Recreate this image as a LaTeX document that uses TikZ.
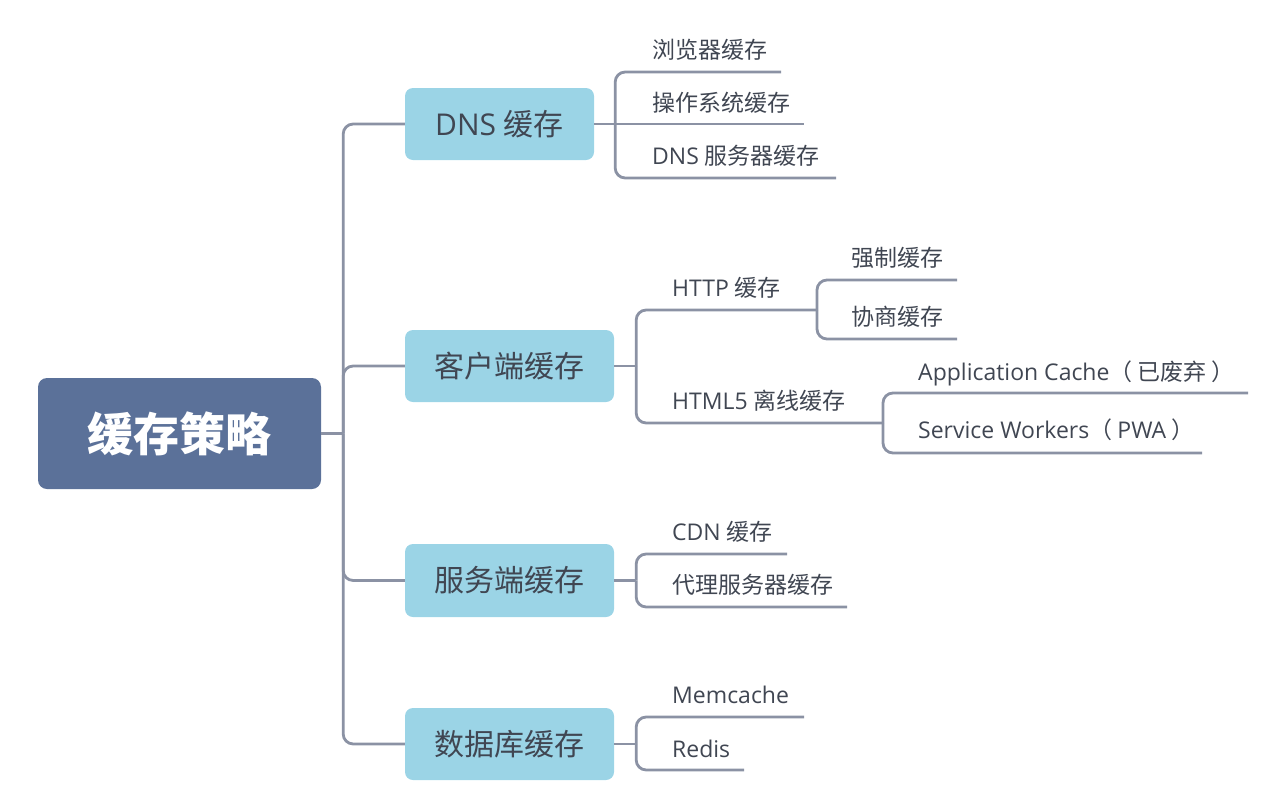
\documentclass[tikz,border=0pt]{standalone}
\usepackage{fontspec}
\setmainfont{Open Sans}
\newfontfamily\cjk{Noto Sans CJK SC}
\newcommand{\zh}[1]{{\cjk #1}}
\definecolor{rootc}{HTML}{5B7199}
\definecolor{boxc}{HTML}{9BD4E6}
\definecolor{txtc}{HTML}{404652}
\definecolor{linec}{HTML}{8B92A4}
\begin{document}
\begin{tikzpicture}[x=1pt,y=-1pt,
  rootbox/.style={fill=rootc, rounded corners=9pt, minimum width=283pt, minimum height=111pt,
    text=white, inner sep=0pt, font=\fontsize{46}{50}\selectfont\cjk\bfseries},
  lvone/.style={fill=boxc, rounded corners=8pt, minimum height=72pt, minimum width=209pt,
    text=txtc, inner sep=0pt, font=\fontsize{30}{34}\selectfont},
  leaf/.style={anchor=base west, inner sep=0pt, text=txtc, font=\fontsize{23}{26}\selectfont},
  conn/.style={draw=linec, line width=2.8pt},
  elbow/.style={conn, rounded corners=10pt}]
\useasboundingbox (0,0) rectangle (1280,809);

% root and first level
\node[rootbox] (root) at (179.5,433.5) {缓存策略};
\node[lvone, minimum width=189pt] (dns) at (499.5,124) {DNS \zh{缓存}};
\node[lvone] (client) at (509.5,366) {\zh{客户端缓存}};
\node[lvone, minimum height=73pt] (server) at (509.5,580.5) {\zh{服务端缓存}};
\node[lvone] (db) at (509.5,744) {\zh{数据库缓存}};

\draw[conn] (root.east) -- ++(22,0) coordinate (rj);
\draw[elbow] (rj) |- (dns.west);
\draw[elbow] (rj) |- (client.west);
\draw[elbow] (rj) |- (server.west);
\draw[elbow] (rj) |- (db.west);

% DNS
\node[leaf] (d1) at (652,58) {\zh{浏览器缓存}};
\node[leaf] (d2) at (652,111) {\zh{操作系统缓存}};
\node[leaf] (d3) at (652,164) {DNS \zh{服务器缓存}};
\coordinate (d1e) at (781,72);
\coordinate (d2e) at (804,124);
\coordinate (d3e) at (836,178);
\draw[conn] (dns.east) -- ++(21,0) coordinate (dj);
\draw[elbow] (dj) |- (d1e);
\draw[conn] (dj) -- (d2e);
\draw[elbow] (dj) |- (d3e);

% client
\node[leaf] (c1) at (672,296) {HTTP \zh{缓存}};
\node[leaf] (c2) at (672,409) {HTML5 \zh{离线缓存}};
\coordinate (c1e) at (817,310);
\coordinate (c2e) at (883,423);
\draw[conn] (client.east) -- ++(22,0) coordinate (cj);
\draw[elbow] (cj) |- (c1e);
\draw[elbow] (cj) |- (c2e);

\node[leaf] (h1) at (851,266) {\zh{强制缓存}};
\node[leaf] (h2) at (851,325) {\zh{协商缓存}};
\coordinate (h1e) at (957,280);
\coordinate (h2e) at (957,339);
\draw[elbow] (c1e) |- (h1e);
\draw[elbow] (c1e) |- (h2e);

\node[leaf] (p1) at (918,380) {Application Cache\zh{（ 已废弃 ）}};
\node[leaf] (p2) at (918,438) {Service Workers\zh{（ }PWA\zh{ ）}};
\coordinate (p1e) at (1248,393);
\coordinate (p2e) at (1202,453);
\draw[elbow] (c2e) |- (p1e);
\draw[elbow] (c2e) |- (p2e);

% server
\node[leaf] (s1) at (672,540) {CDN \zh{缓存}};
\node[leaf] (s2) at (672,593) {\zh{代理服务器缓存}};
\coordinate (s1e) at (787,554);
\coordinate (s2e) at (847,607);
\draw[conn] (server.east) -- ++(22,0) coordinate (sj);
\draw[elbow] (sj) |- (s1e);
\draw[elbow] (sj) |- (s2e);

% database
\node[leaf] (b1) at (672,703) {Memcache};
\node[leaf] (b2) at (672,757) {Redis};
\coordinate (b1e) at (804,717);
\coordinate (b2e) at (744,770);
\draw[conn] (db.east) -- ++(22,0) coordinate (bj);
\draw[elbow] (bj) |- (b1e);
\draw[elbow] (bj) |- (b2e);
\end{tikzpicture}
\end{document}
